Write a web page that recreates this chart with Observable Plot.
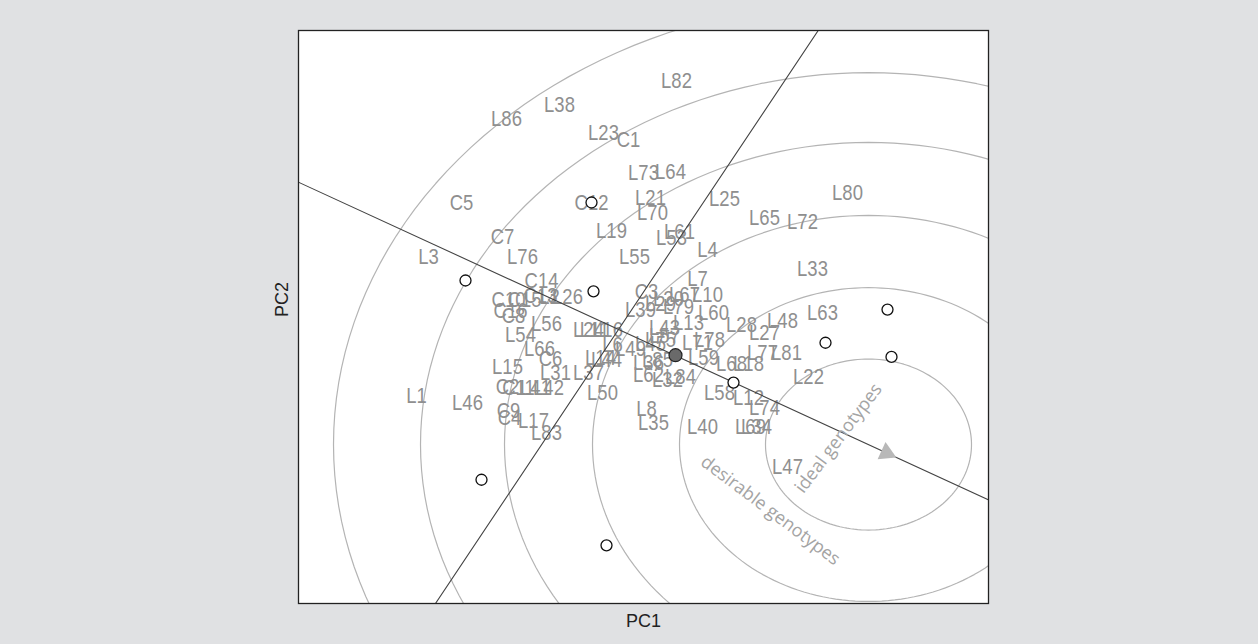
<!DOCTYPE html>
<html><head><meta charset="utf-8">
<script src="https://cdn.jsdelivr.net/npm/d3@7"></script>
<script src="https://cdn.jsdelivr.net/npm/@observablehq/plot@0.6"></script>
<style>
html,body{margin:0;padding:0;background:#e0e1e3;}
#chart{width:1258px;height:644px;}
</style></head><body><div id="chart"></div>
<script>
// Genotype labels and their biplot scores (PC1, PC2)
const genotypes = ["L82","L38","L86","L23","C1","L73","L64","C5","C12","L21","L70","C7","L19","L61","L53","L55","L76","L3","L25","L80","L65","L72","L4","L33","L7","C3","L20","L29","L67","L10","L39","L79","L60","L13","L43","L75","L28","L27","L48","L63","L77","L81","L71","L78","L59","L68","L18","L22","L58","L12","L74","L40","L69","L34","L47","C14","C10","C15","C13","L2","L26","C16","C8","L54","L56","L24","L11","L16","L66","C6","L15","L31","L37","L14","L44","L6","C2","C11","L41","L42","L50","L1","L46","C9","C4","L17","L83","L8","L35","L36","L85","L62","L32","L84","L49","L45","L57"];
const genoPC1 = [0.58,-0.59,-1.12,-0.15,0.10,0.25,0.52,-1.57,-0.27,0.32,0.34,-1.16,-0.07,0.61,0.53,0.16,-0.96,-1.90,1.06,2.29,1.46,1.84,0.89,1.94,0.79,0.28,0.50,0.42,0.66,0.89,0.22,0.60,0.95,0.70,0.46,0.42,1.23,1.46,1.64,2.04,1.44,1.68,0.79,0.91,0.85,1.13,1.30,1.90,1.01,1.30,1.46,0.84,1.32,1.38,1.69,-0.77,-1.10,-0.94,-0.78,-0.69,-0.51,-1.08,-1.05,-0.98,-0.72,-0.30,-0.24,-0.11,-0.79,-0.68,-1.11,-0.63,-0.30,-0.18,-0.12,-0.06,-1.11,-1.00,-0.83,-0.70,-0.16,-2.02,-1.51,-1.10,-1.09,-0.85,-0.72,0.28,0.35,0.30,0.39,0.30,0.49,0.62,0.12,0.32,0.46];
const genoPC2 = [3.00,2.71,2.54,2.37,2.28,1.88,1.90,1.52,1.52,1.59,1.41,1.12,1.19,1.17,1.10,0.87,0.88,0.87,1.57,1.64,1.34,1.29,0.96,0.73,0.61,0.45,0.37,0.31,0.42,0.42,0.23,0.27,0.20,0.08,0.02,-0.13,0.06,-0.04,0.10,0.20,-0.28,-0.28,-0.16,-0.12,-0.34,-0.42,-0.42,-0.57,-0.77,-0.82,-0.95,-1.18,-1.18,-1.18,-1.65,0.58,0.35,0.36,0.40,0.39,0.39,0.22,0.16,-0.06,0.07,0.00,-0.01,-0.01,-0.24,-0.35,-0.45,-0.52,-0.52,-0.34,-0.37,-0.19,-0.69,-0.70,-0.71,-0.71,-0.77,-0.80,-0.88,-0.98,-1.06,-1.10,-1.25,-0.96,-1.13,-0.40,-0.37,-0.55,-0.61,-0.57,-0.23,-0.17,-0.08];

// Environment markers (open circles)
const envPC1 = [-0.27,-1.53,-0.25,1.15,2.07,2.69,2.73,-1.37,-0.12];
const envPC2 = [1.53,0.59,0.46,-0.64,-0.16,0.24,-0.33,-1.81,-2.60];

// Average genotype (filled dot)
const meanPC1 = [0.57];
const meanPC2 = [-0.31];

// Ideal genotype (ring centre) and arrow head on the average-environment axis
const idealPC1 = 2.50, idealPC2 = -1.386;
const arrowPC1 = [2.68], arrowPC2 = [-1.486];

// Concentric ring radii (PC units)
const ringRadii = [1.03, 1.89, 2.76, 3.64, 4.48, 5.35];

// Annotation texts
const annotText = ["ideal genotypes", "desirable genotypes"];
const annotPC1 = [2.20, 1.52];
const annotPC2 = [-1.31, -2.18];
const annotAngle = [-53, 37];

const xDomain = [-3.2, 3.7];
const yDomain = [-3.301, 3.602];

// ---- build tables ----
const labels = genotypes.map((g, i) => ({g, x: genoPC1[i], y: genoPC2[i]}));
const envs = envPC1.map((x, i) => ({x, y: envPC2[i]}));
const means = meanPC1.map((x, i) => ({x, y: meanPC2[i]}));
const rings = [];
ringRadii.forEach((r, k) => {
  for (let a = 0; a <= 360; a += 2) {
    const t = a * Math.PI / 180;
    rings.push({ring: k, x: idealPC1 + r * Math.cos(t), y: idealPC2 + r * Math.sin(t)});
  }
});
// average-environment axis through origin and ideal point, plus its perpendicular
const L = 20;
const axesLines = [
  {id: "aea", x: -L * idealPC1, y: -L * idealPC2},
  {id: "aea", x: L * idealPC1, y: L * idealPC2},
  {id: "perp", x: L * idealPC2, y: -L * idealPC1},
  {id: "perp", x: -L * idealPC2, y: L * idealPC1}
];
const W = 1258, H = 644, mL = 298, mR = 270, mT = 30, mB = 41;
const kx = (W - mL - mR) / (xDomain[1] - xDomain[0]);
const ky = (H - mT - mB) / (yDomain[1] - yDomain[0]);
const arrowRot = 90 + Math.atan2(-idealPC2 * ky, idealPC1 * kx) * 180 / Math.PI;
const arrows = arrowPC1.map((x, i) => ({x, y: arrowPC2[i]}));
const annots = annotText.map((t, i) => ({t, x: annotPC1[i], y: annotPC2[i], a: annotAngle[i]}));

const sans = "'Liberation Sans',Arial,sans-serif";

const chart = Plot.plot({
  width: W, height: H,
  marginLeft: mL, marginRight: mR, marginTop: mT, marginBottom: mB,
  x: {domain: xDomain, axis: null},
  y: {domain: yDomain, axis: null},
  style: {background: "transparent"},
  marks: [
    Plot.frame({fill: "white", stroke: "none"}),
    Plot.line(rings, {x: "x", y: "y", z: "ring", stroke: "#b4b4b4", strokeWidth: 1.2, clip: true}),
    Plot.text(labels, {x: "x", y: "y", text: "g", fill: "#8f8f8f", fontSize: 22, fontFamily: sans, textAnchor: "middle", lineAnchor: "middle"}),
    Plot.line(axesLines, {x: "x", y: "y", z: "id", stroke: "#444", strokeWidth: 1.1, clip: true}),
    Plot.dot(arrows, {x: "x", y: "y", symbol: "triangle", r: 7, fill: "#b8b8b8", rotate: arrowRot}),
    Plot.dot(envs, {x: "x", y: "y", r: 5.5, stroke: "#111", strokeWidth: 1.3, fill: "white"}),
    Plot.dot(means, {x: "x", y: "y", r: 6.5, stroke: "#222", strokeWidth: 1.2, fill: "#6a6a6a"}),
    Plot.text(annots, {x: "x", y: "y", text: "t", rotate: "a", fill: "#a4a4a4", fontSize: 18, fontFamily: "'Open Sans',sans-serif", textAnchor: "middle", lineAnchor: "middle"}),
    Plot.frame({stroke: "#222", strokeWidth: 1.3}),
    Plot.text(["PC1"], {frameAnchor: "bottom", dy: 23, fontSize: 18, fill: "#222", fontFamily: sans}),
    Plot.text(["PC2"], {frameAnchor: "left", dx: -16, rotate: -90, fontSize: 18, fill: "#222", fontFamily: sans})
  ]
});
// genotype labels use a narrow face: compress the glyphs horizontally
const labelGroup = chart.querySelectorAll('g[aria-label="text"]')[0];
labelGroup.querySelectorAll("text").forEach(t => {
  const tr = t.getAttribute("transform") || "";
  t.setAttribute("transform", tr + " scale(0.84,1)");
});
document.getElementById("chart").appendChild(chart);
</script></body></html>
